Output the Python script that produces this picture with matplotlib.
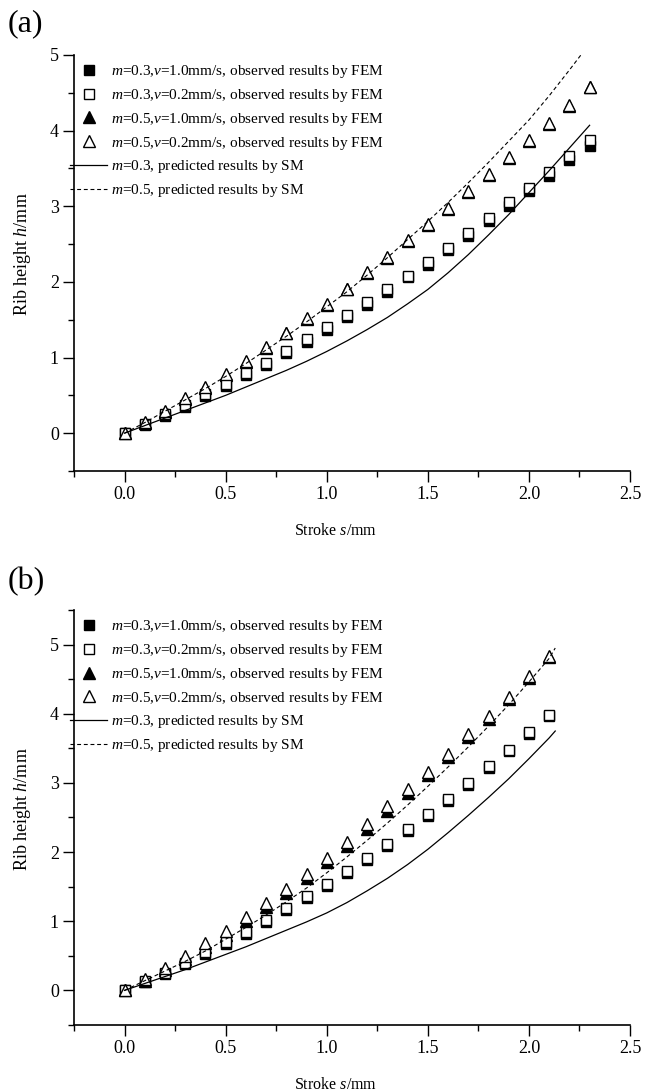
import numpy as np
import matplotlib
matplotlib.use("Agg")
import matplotlib.pyplot as plt
from matplotlib.ticker import MultipleLocator

plt.rcParams['font.family'] = ['Liberation Serif', 'DejaVu Serif']
plt.rcParams['mathtext.fontset'] = 'custom'
plt.rcParams['mathtext.rm'] = 'Liberation Serif'
plt.rcParams['mathtext.it'] = 'Liberation Serif:italic'

# stroke positions of the FEM samples
stroke_a = [0.0, 0.1, 0.2, 0.3, 0.4, 0.5, 0.6, 0.7, 0.8, 0.9, 1.0, 1.1,
            1.2, 1.3, 1.4, 1.5, 1.6, 1.7, 1.8, 1.9, 2.0, 2.1, 2.2, 2.3]
stroke_b = [0.0, 0.1, 0.2, 0.3, 0.4, 0.5, 0.6, 0.7, 0.8, 0.9, 1.0, 1.1,
            1.2, 1.3, 1.4, 1.5, 1.6, 1.7, 1.8, 1.9, 2.0, 2.1]

# (a) FEM rib heights
a_m3_v10 = [0, 0.11, 0.23, 0.35, 0.49, 0.62, 0.77, 0.90, 1.06, 1.21, 1.37, 1.54,
            1.70, 1.87, 2.06, 2.22, 2.42, 2.61, 2.80, 3.00, 3.20, 3.40, 3.61, 3.80]
a_m3_v02 = [0, 0.12, 0.25, 0.37, 0.52, 0.65, 0.79, 0.93, 1.09, 1.24, 1.40, 1.56,
            1.73, 1.91, 2.08, 2.26, 2.45, 2.64, 2.84, 3.05, 3.24, 3.45, 3.66, 3.87]
a_m5_v10 = [0, 0.14, 0.28, 0.45, 0.60, 0.77, 0.94, 1.13, 1.32, 1.51, 1.70, 1.90,
            2.12, 2.32, 2.54, 2.75, 2.96, 3.19, 3.41, 3.64, 3.86, 4.09, 4.33, 4.57]
a_m5_v02 = [0, 0.15, 0.29, 0.46, 0.61, 0.78, 0.95, 1.14, 1.33, 1.52, 1.71, 1.91,
            2.13, 2.33, 2.55, 2.76, 2.97, 3.20, 3.42, 3.65, 3.87, 4.10, 4.34, 4.58]

# (b) FEM rib heights
b_m3_v10 = [0, 0.12, 0.23, 0.38, 0.52, 0.67, 0.82, 0.99, 1.16, 1.33, 1.51,
            1.70, 1.89, 2.09, 2.30, 2.52, 2.74, 2.97, 3.22, 3.46, 3.71, 3.97]
b_m3_v02 = [0, 0.13, 0.25, 0.40, 0.55, 0.70, 0.85, 1.02, 1.19, 1.36, 1.54,
            1.73, 1.92, 2.12, 2.33, 2.55, 2.77, 3.00, 3.24, 3.48, 3.73, 3.98]
b_m5_v10 = [0, 0.13, 0.29, 0.45, 0.63, 0.80, 1.00, 1.20, 1.41, 1.62, 1.85,
            2.09, 2.34, 2.60, 2.85, 3.11, 3.38, 3.66, 3.93, 4.22, 4.52, 4.82]
b_m5_v02 = [0, 0.16, 0.33, 0.50, 0.68, 0.86, 1.06, 1.26, 1.47, 1.68, 1.91,
            2.15, 2.40, 2.66, 2.91, 3.16, 3.42, 3.70, 3.96, 4.24, 4.54, 4.84]

# SM predictions
sm_s_a = [0.0, 0.1, 0.2, 0.3, 0.4, 0.5, 0.6, 0.7, 0.8, 0.9, 1.0, 1.1,
          1.2, 1.3, 1.4, 1.5, 1.6, 1.7, 1.8, 1.9, 2.0, 2.1, 2.2, 2.3]
a_sm_m3 = [0, 0.10, 0.20, 0.30, 0.40, 0.50, 0.61, 0.72, 0.83, 0.95, 1.08, 1.22,
           1.37, 1.53, 1.71, 1.90, 2.12, 2.36, 2.62, 2.89, 3.18, 3.47, 3.77, 4.07]
a_sm_m5 = [0, 0.14, 0.29, 0.44, 0.59, 0.75, 0.92, 1.10, 1.28, 1.47, 1.67, 1.87,
           2.09, 2.32, 2.56, 2.80, 3.05, 3.31, 3.58, 3.86, 4.14, 4.46, 4.80, 5.15]

sm_s_b = [0.0, 0.1, 0.2, 0.3, 0.4, 0.5, 0.6, 0.7, 0.8, 0.9, 1.0, 1.1,
          1.2, 1.3, 1.4, 1.5, 1.6, 1.7, 1.8, 1.9, 2.0, 2.1, 2.13]
b_sm_m3 = [0, 0.10, 0.20, 0.30, 0.41, 0.52, 0.63, 0.75, 0.87, 0.99, 1.12, 1.27,
           1.44, 1.62, 1.82, 2.04, 2.28, 2.53, 2.79, 3.06, 3.35, 3.65, 3.75]
b_sm_m5 = [0, 0.14, 0.28, 0.42, 0.57, 0.74, 0.91, 1.09, 1.28, 1.48, 1.70, 1.93,
           2.17, 2.42, 2.68, 2.95, 3.23, 3.52, 3.82, 4.13, 4.46, 4.80, 4.95]

labels = [r'$m$=0.3,$v$=1.0mm/s, observed results by FEM',
          r'$m$=0.3,$v$=0.2mm/s, observed results by FEM',
          r'$m$=0.5,$v$=1.0mm/s, observed results by FEM',
          r'$m$=0.5,$v$=0.2mm/s, observed results by FEM',
          r'$m$=0.3, predicted results by SM',
          r'$m$=0.5, predicted results by SM']


def draw_panel(ax, s, f1, o1, f2, o2, ss, sm3, sm5, ytop):
    ms_sq = 7.4
    ms_tri = 9.0
    ax.plot(s, f1, 's', color='k', ms=ms_sq, mew=1.0, label=labels[0], zorder=3)
    ax.plot(s, o1, 's', mfc='white', mec='k', ms=ms_sq, mew=1.0, label=labels[1], zorder=4)
    ax.plot(s, f2, '^', color='k', ms=ms_tri, mew=1.0, label=labels[2], zorder=3)
    ax.plot(s, o2, '^', mfc='white', mec='k', ms=ms_tri, mew=1.0, label=labels[3], zorder=4)
    ax.plot(ss, sm3, '-', color='k', lw=0.9, label=labels[4], zorder=5)
    ax.plot(ss, sm5, '--', color='k', lw=0.8, dashes=(3.5, 2.5), label=labels[5], zorder=5)

    ax.set_xlim(-0.25, 2.5)
    ax.set_ylim(-0.5, ytop)
    ax.xaxis.set_minor_locator(MultipleLocator(0.25))
    ax.yaxis.set_minor_locator(MultipleLocator(0.5))
    ax.set_xticks([0, 0.5, 1.0, 1.5, 2.0, 2.5])
    ax.set_xticklabels(['0.0', '0.5', '1.0', '1.5', '2.0', '2.5'])
    ax.set_yticks([0, 1, 2, 3, 4, 5])
    ax.set_yticklabels(['0', '1', '2', '3', '4', '5'])
    for side in ['top', 'right']:
        ax.spines[side].set_visible(False)
    for side in ['left', 'bottom']:
        ax.spines[side].set_linewidth(1.2)
    ax.tick_params(which='major', direction='out', length=8, width=1.0, labelsize=13, pad=3)
    ax.tick_params(which='minor', direction='out', length=4.5, width=1.0)
    ax.set_xlabel(r'Stroke $s$/mm', fontsize=11.5)
    ax.set_ylabel(r'Rib height $h$/mm', fontsize=13)
    ax.xaxis.set_label_coords(0.471, -0.125)
    ax.yaxis.set_label_coords(-0.074, 0.52)

    ax.legend(loc='upper left', bbox_to_anchor=(-0.012, 0.987), frameon=False,
              fontsize=11, handlelength=2.4, handletextpad=0.25, numpoints=1,
              labelspacing=0.44, borderaxespad=0.0, borderpad=0.2)
    ax.patch.set_alpha(0)


fig = plt.figure(figsize=(6.46, 10.92), dpi=100)
ax1 = fig.add_axes([0.1146, 0.5687, 0.8607, 0.381])
ax2 = fig.add_axes([0.1146, 0.0614, 0.8607, 0.380])

draw_panel(ax1, stroke_a, a_m3_v10, a_m3_v02, a_m5_v10, a_m5_v02,
           sm_s_a, a_sm_m3, a_sm_m5, 5.0)
draw_panel(ax2, stroke_b, b_m3_v10, b_m3_v02, b_m5_v10, b_m5_v02,
           sm_s_b, b_sm_m3, b_sm_m5, 5.5)

fig.text(0.012, 1 - 24 / 1092, '(a)', fontsize=23, va='center', ha='left')
fig.text(0.012, 1 - 582 / 1092, '(b)', fontsize=23, va='center', ha='left')

fig.savefig('out.png', dpi=100)
